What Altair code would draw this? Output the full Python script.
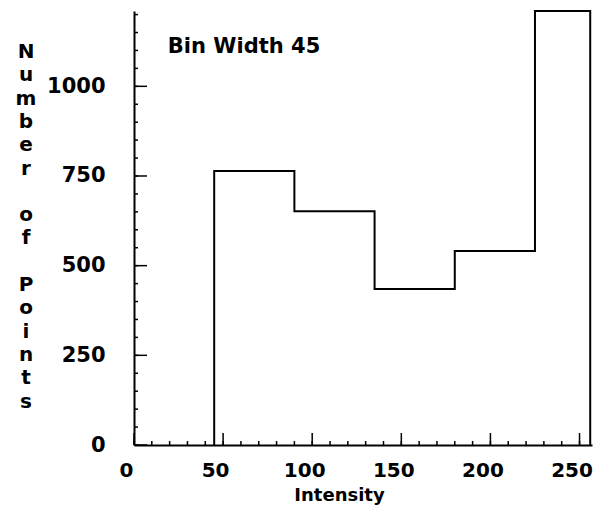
import altair as alt
import pandas as pd

# ---- data ----
bin_edges = [45, 90, 135, 180, 225, 256]
counts = [764, 652, 435, 541, 1210]
y_major = [0, 250, 500, 750, 1000]
y_minor = list(range(0, 1201, 50))
x_major = [0, 50, 100, 150, 200, 250]
x_minor = list(range(0, 257, 10))
annotation = ["Bin Width 45"]
ann_x = [19]
ann_y = [1110]
y_title_words = ["Number", "of", "Points"]
x_title = "Intensity"

# step outline points
xs = [bin_edges[0]]
ys = [0]
for left, c in zip(bin_edges[:-1], counts):
    xs.append(left)
    ys.append(c)
xs += [bin_edges[-1], bin_edges[-1]]
ys += [counts[-1], 0]
df = pd.DataFrame({"x": xs, "y": ys, "i": list(range(len(xs)))})

FONT = "DejaVu Sans"
W, H = 458, 434
LH = 23.3
xscale = alt.Scale(domain=[0, 257], nice=False, zero=False)
yscale = alt.Scale(domain=[0, 1210], nice=False, zero=False)

xaxis = alt.Axis(values=x_major, format="d", title=x_title)
yaxis = alt.Axis(values=y_major, format="d", title=None)

line = alt.Chart(df).mark_line(
    interpolate="step-after", color="black", strokeWidth=2
).encode(
    x=alt.X("x:Q", scale=xscale, axis=xaxis),
    y=alt.Y("y:Q", scale=yscale, axis=yaxis),
    order="i:Q",
)

ymaj = alt.Chart(pd.DataFrame({"y": y_major})).mark_rule(color="black", strokeWidth=1.5).encode(
    y=alt.Y("y:Q", scale=yscale, axis=yaxis), x=alt.value(0), x2=alt.value(13))
ymin = alt.Chart(pd.DataFrame({"y": y_minor})).mark_rule(color="black", strokeWidth=1.5).encode(
    y=alt.Y("y:Q", scale=yscale, axis=yaxis), x=alt.value(0), x2=alt.value(4))
xmaj = alt.Chart(pd.DataFrame({"x": x_major})).mark_rule(color="black", strokeWidth=1.5).encode(
    x=alt.X("x:Q", scale=xscale, axis=xaxis), y=alt.value(H), y2=alt.value(H - 12))
xmin = alt.Chart(pd.DataFrame({"x": x_minor})).mark_rule(color="black", strokeWidth=1.5).encode(
    x=alt.X("x:Q", scale=xscale, axis=xaxis), y=alt.value(H), y2=alt.value(H - 4))

ann = alt.Chart(pd.DataFrame({"t": annotation, "x": ann_x, "y": ann_y})).mark_text(
    font=FONT, fontSize=21, fontWeight="bold", align="left", baseline="middle", color="black"
).encode(
    x=alt.X("x:Q", scale=xscale, axis=xaxis),
    y=alt.Y("y:Q", scale=yscale, axis=yaxis),
    text="t:N",
)

# vertical, letter-stacked y-axis title: one letter per line, a blank line between words
ytitle_layers = []
line_no = 0
for word in y_title_words:
    ytitle_layers.append(
        alt.Chart(pd.DataFrame({"k": [0]})).mark_text(
            font=FONT, fontSize=20, fontWeight="bold", align="center", baseline="top",
            color="black", lineHeight=LH
        ).encode(x=alt.value(-108), y=alt.value(31 + line_no * LH), text=alt.value(list(word)))
    )
    line_no += len(word) + 1

chart = alt.layer(line, ymaj, ymin, xmaj, xmin, ann, *ytitle_layers).properties(
    width=W, height=H,
    autosize=alt.AutoSizeParams(type="none"),
    padding={"left": 126, "top": 3, "right": 2, "bottom": 65},
    background="white",
).configure_view(stroke=None).configure_axisX(
    ticks=False, grid=False, domainColor="black", domainWidth=2,
    labelFont=FONT, labelFontSize=20, labelFontWeight="bold", labelColor="black",
    labelPadding=15, labelOffset=-8, labelFlush=False,
    titleFont=FONT, titleFontSize=18, titleFontWeight="bold", titleColor="black",
    titleX=205, titleY=41, titleBaseline="top", titleAlign="center",
).configure_axisY(
    ticks=False, grid=False, domainColor="black", domainWidth=2,
    labelFont=FONT, labelFontSize=21, labelFontWeight="bold", labelColor="black",
    labelPadding=29, labelFlush=False,
)

chart.save("out.html", embed_options={"renderer": "svg", "actions": False})
